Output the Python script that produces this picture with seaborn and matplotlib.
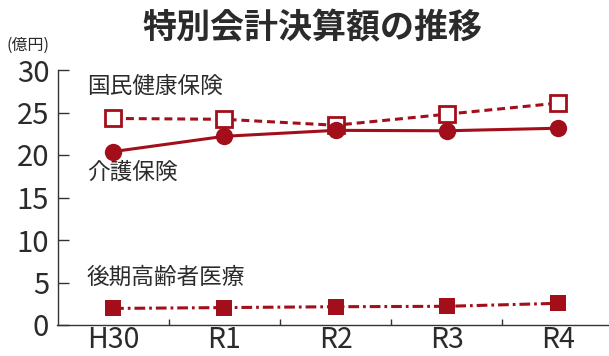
import matplotlib
matplotlib.use("Agg")
import matplotlib.pyplot as plt
import seaborn as sns
import pandas as pd
import numpy as np

years = ["H30", "R1", "R2", "R3", "R4"]
kaigo = [20.4, 22.2, 22.9, 22.85, 23.15]
kokuho = [24.3, 24.2, 23.5, 24.8, 26.1]
kouki = [1.95, 2.05, 2.15, 2.2, 2.55]
series_names = ["介護保険", "国民健康保険", "後期高齢者医療"]
title = "特別会計決算額の推移"
unit = "(億円)"

sns.set_theme(style="white")
plt.rcParams["font.family"] = ["Noto Sans CJK JP", "DejaVu Sans"]

RED = "#a20f1b"
TXT = "#2b2b2b"

fig = plt.figure(figsize=(6.09, 3.56), dpi=100)
ax = fig.add_axes([57.5 / 609, 1 - 325 / 356, 556 / 609, 255 / 356])

xpos = np.arange(len(years))
df = pd.DataFrame({"x": xpos, "kaigo": kaigo, "kokuho": kokuho, "kouki": kouki})

sns.lineplot(data=df, x="x", y="kokuho", ax=ax, color=RED, lw=2.2,
             marker="s", markersize=12, markerfacecolor="white",
             markeredgecolor=RED, markeredgewidth=2, dashes=False)
ax.lines[-1].set_dashes((2.6, 1.6))
sns.lineplot(data=df, x="x", y="kaigo", ax=ax, color=RED, lw=2.2,
             marker="o", markersize=12.5, markeredgecolor=RED, markeredgewidth=0)
sns.lineplot(data=df, x="x", y="kouki", ax=ax, color=RED, lw=2.2,
             marker="s", markersize=12, markeredgecolor=RED, markeredgewidth=0)
ax.lines[-1].set_dashes((3.5, 1.3, 0.9, 1.3))

ax.set_xlim(-0.5, 4.5)
ax.set_ylim(0, 30)
ax.set_yticks([0, 5, 10, 15, 20, 25, 30])
ax.set_xticks([0.5, 1.5, 2.5, 3.5])
ax.set_xticklabels([])
ax.set_xticks(xpos, minor=True)
ax.set_xticklabels(years, minor=True)
ax.set_xlabel("")
ax.set_ylabel("")

for s in ["top", "right"]:
    ax.spines[s].set_visible(False)
for s in ["left", "bottom"]:
    ax.spines[s].set_color("#333333")
    ax.spines[s].set_linewidth(1.0)

ax.tick_params(axis="y", which="major", direction="in", length=8, width=1,
               color="#333333", labelsize=21, labelcolor=TXT, pad=6, left=True)
ax.tick_params(axis="x", which="major", direction="in", length=4, width=1,
               color="#333333", bottom=True)
ax.tick_params(axis="x", which="minor", length=0, labelsize=20.5, labelcolor=TXT,
               pad=0, bottom=True)

ax.text(-0.235, 28.1, series_names[1], fontsize=16.3, color=TXT, va="center", ha="left")
ax.text(-0.235, 18.0, series_names[0], fontsize=16.3, color=TXT, va="center", ha="left")
ax.text(-0.235, 5.6, series_names[2], fontsize=16.3, color=TXT, va="center", ha="left")

fig.text(312 / 609, 1 - 28 / 356, title, fontsize=24.5, fontweight="bold",
         color=TXT, ha="center", va="center")
fig.text(6 / 609, 1 - 45 / 356, unit, fontsize=11.5, color=TXT, ha="left", va="center")

fig.savefig("out.png", dpi=100)
